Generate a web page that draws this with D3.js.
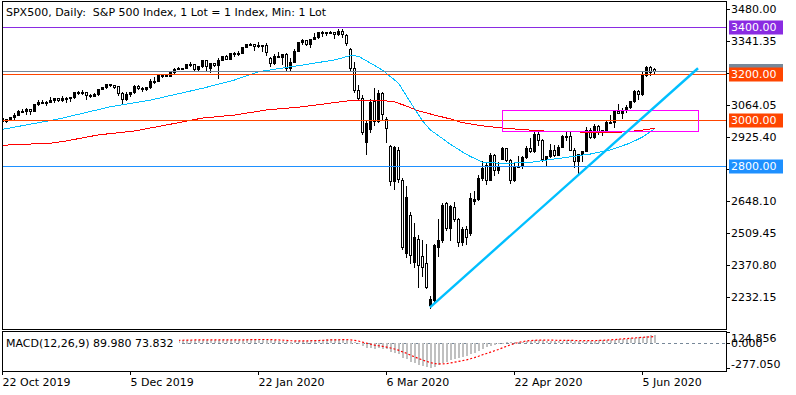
<!DOCTYPE html>
<html lang="en">
<head>
<meta charset="utf-8">
<title>SPX500 Daily</title>
<script src="https://d3js.org/d3.v7.min.js"></script>
<style>
  body { margin: 0; background: #fff; }
  text { font-family: "DejaVu Sans", sans-serif; font-size: 11px; fill: #000; }
  .frame { fill: none; stroke: #000; stroke-width: 1px; shape-rendering: crispEdges; }
</style>
</head>
<body>
<svg width="796" height="395"></svg>
<script>
// daily bars, 22 Oct 2019 .. 10 Jun 2020
var opens = [
  3006,2996,3004,3010,3022,3039,3037,3047,3038,3066,
  3078,3075,3077,3085,3093,3087,3092,3094,3097,3120,
  3122,3120,3108,3104,3110,3134,3141,3154,3151,3146,
  3114,3088,3113,3118,3146,3136,3133,3142,3169,3169,
  3192,3193,3191,3205,3221,3224,3223,3240,3240,3221,
  3231,3258,3222,3246,3237,3259,3275,3265,3288,3283,
  3289,3317,3330,3327,3321,3322,3326,3268,3244,3276,
  3273,3284,3226,3249,3298,3335,3346,3328,3352,3358,
  3379,3374,3380,3379,3370,3386,3367,3307,3226,3128,
  3095,2905,2960,3080,2995,3114,3002,2885,2735,2868,
  2738,2420,2586,2381,2482,2410,2380,2195,2218,2447,
  2478,2640,2529,2621,2568,2471,2527,2510,2648,2656,
  2746,2805,2740,2846,2783,2830,2875,2823,2737,2799,
  2798,2837,2878,2863,2940,2912,2831,2843,2868,2848,
  2881,2930,2930,2870,2820,2852,2864,2954,2923,2972,
  2949,2955,2990,2992,3036,3030,3044,3056,3081,3123,
  3112,3194,3230,3220];
var highs = [
  3014,3005,3013,3027,3044,3047,3050,3048,3067,3084,
  3084,3079,3098,3094,3094,3102,3098,3098,3121,3124,
  3128,3121,3112,3115,3134,3142,3155,3156,3152,3147,
  3118,3120,3121,3150,3150,3143,3143,3177,3183,3198,
  3198,3199,3206,3226,3228,3226,3240,3248,3241,3232,
  3258,3259,3247,3247,3268,3276,3282,3288,3294,3299,
  3317,3330,3333,3329,3337,3326,3334,3270,3285,3293,
  3286,3288,3268,3306,3337,3348,3347,3352,3375,3381,
  3385,3381,3385,3380,3394,3393,3370,3310,3250,3150,
  3105,2995,3090,3137,3130,3118,3010,2890,2885,2880,
  2745,2712,2600,2553,2500,2480,2460,2235,2460,2571,
  2638,2645,2632,2641,2575,2535,2540,2680,2690,2760,
  2819,2815,2855,2850,2815,2880,2876,2830,2816,2844,
  2842,2887,2922,2945,2950,2915,2844,2896,2891,2892,
  2933,2945,2945,2875,2852,2865,2968,2964,2981,2978,
  2957,2995,3021,3036,3069,3050,3063,3081,3130,3129,
  3211,3233,3233,3226];
var lows = [
  2993,2991,2999,3001,3020,3032,3025,3023,3036,3064,
  3071,3065,3075,3075,3079,3083,3078,3083,3095,3113,
  3112,3090,3098,3102,3109,3131,3139,3148,3137,3108,
  3068,3085,3102,3116,3133,3126,3130,3137,3158,3168,
  3186,3188,3190,3204,3219,3220,3222,3234,3214,3211,
  3228,3210,3206,3232,3181,3257,3261,3262,3277,3280,
  3288,3316,3325,3303,3317,3300,3281,3234,3240,3271,
  3243,3215,3214,3248,3296,3330,3322,3315,3350,3355,
  3361,3369,3377,3356,3369,3360,3324,3212,3118,3088,
  2940,2850,2945,2976,2990,2999,2901,2718,2700,2730,
  2440,2405,2377,2360,2276,2320,2270,2182,2210,2407,
  2470,2520,2480,2560,2450,2455,2460,2500,2635,2650,
  2740,2720,2738,2762,2768,2828,2820,2727,2735,2795,
  2790,2835,2860,2860,2892,2821,2798,2840,2844,2845,
  2880,2912,2869,2794,2766,2821,2862,2922,2920,2939,
  2934,2950,2985,2969,3028,3007,3032,3052,3078,3090,
  3108,3190,3194,3200];
var closes = [
  2996,3004,3010,3022,3039,3037,3047,3038,3066,3078,
  3075,3077,3085,3093,3087,3092,3094,3097,3120,3122,
  3120,3108,3104,3110,3134,3141,3154,3151,3141,3114,
  3088,3113,3118,3146,3136,3133,3142,3169,3169,3192,
  3193,3191,3205,3221,3224,3223,3240,3240,3221,3231,
  3258,3234,3246,3237,3259,3275,3265,3288,3283,3289,
  3317,3330,3327,3321,3322,3326,3295,3244,3276,3273,
  3284,3226,3249,3298,3335,3346,3328,3352,3358,3379,
  3374,3380,3379,3370,3386,3372,3333,3226,3128,3095,
  2945,2985,3075,2995,3114,3025,2965,2734,2880,2742,
  2446,2666,2413,2489,2370,2363,2276,2221,2456,2478,
  2630,2529,2626,2570,2471,2527,2489,2660,2656,2746,
  2790,2740,2846,2783,2800,2875,2823,2737,2799,2798,
  2837,2878,2863,2940,2912,2831,2843,2868,2848,2881,
  2930,2930,2870,2820,2852,2864,2954,2923,2972,2949,
  2955,2990,2992,3036,3030,3044,3056,3081,3123,3112,
  3194,3230,3207,3210];

// moving averages, read at sample bars
var ma50Bars = [0,14,27,37,50,58,64,75,83,87,89,92,95,99,102,105,107,110,112,115,117,120,125,132,136,140,147,152,157,160,163];
var ma50Vals = [2958,3003,3056,3085,3136,3172,3208,3237,3259,3278,3275,3245,3215,3158,3075,2995,2955,2918,2893,2860,2840,2816,2810,2815,2825,2834,2851,2869,2899,2925,2960];
var ma200Bars = [0,12,16,24,33,41,50,58,66,75,83,87,94,98,101,104,108,112,115,120,125,130,135,141,150,156,160,163];
var ma200Vals = [2889,2898,2908,2934,2951,2977,3007,3020,3042,3056,3074,3083,3085,3077,3059,3038,3020,3003,2987,2973,2964,2957,2951,2948,2944,2947,2955,2962];

// MACD(12,26,9): main (histogram) and signal
var macdMain = [
  12,14,16,18,21,23,25,27,30,33,
  35,37,38,39,39,39,39,39,40,41,
  41,40,38,37,38,39,40,40,38,34,
  29,27,25,26,25,24,24,26,27,29,
  31,32,34,36,38,39,40,39,39,38,
  39,38,37,35,35,36,36,37,38,38,
  40,43,44,44,44,43,40,33,30,27,
  25,19,17,19,23,27,29,31,34,37,
  40,42,43,43,44,43,40,28,10,-8,
  -34,-52,-54,-62,-58,-62,-72,-100,-108,-128,
  -170,-180,-215,-225,-245,-252,-264,-277,-265,-250,
  -228,-212,-192,-178,-172,-160,-150,-128,-108,-84,
  -62,-48,-30,-18,-8,5,10,8,10,12,
  16,22,27,33,35,30,27,26,24,24,
  27,32,33,28,22,21,20,27,28,32,
  32,33,36,38,43,46,50,54,58,64,
  68,78,86,89.98];
var macdSignal = [
  14,14,14,15,16,17,18,20,22,24,
  26,28,30,31,33,34,35,36,37,38,
  38,39,39,38,38,38,38,39,39,38,
  36,34,32,31,30,29,28,28,28,28,
  29,29,30,31,32,33,34,35,36,36,
  37,37,37,37,36,36,36,36,37,37,
  37,38,39,40,41,41,41,40,38,36,
  34,31,28,26,26,26,26,27,28,30,
  32,34,36,37,38,39,39,37,32,24,
  12,0,-11,-21,-29,-35,-43,-54,-65,-78,
  -97,-113,-134,-152,-171,-187,-203,-218,-227,-232,
  -232,-228,-221,-212,-204,-195,-186,-174,-161,-146,
  -129,-115,-100,-85,-70,-52,-35,-18,-4,8,
  17,24,29,32,34,35,35,34,33,32,
  31,31,31,30,29,28,28,28,29,30,
  32,34,37,40,44,48,51,55,58,62,
  65,68,71,73.832];

var tickBars = [0, 32, 64, 96, 128, 160];
var tickLabels = ["22 Oct 2019", "5 Dec 2019", "22 Jan 2020", "6 Mar 2020", "22 Apr 2020", "5 Jun 2020"];
var priceTicks = [3480.00, 3341.35, 3202.70, 3064.05, 2925.40, 2786.75, 2648.10, 2509.45, 2370.80, 2232.15];
var macdTicks = [124.856, 0, -277.05];

var levelPrices = [3400, 3200, 3000, 2800];
var levelColors = ["#8a2be2", "#ff4500", "#ff4500", "#1e90ff"];

// trend line and box objects (bar, price)
var trendBars = [107, 174];
var trendPrices = [2186, 3223];
var boxBars = [125.1, 174.1];
var boxPrices = [3041, 2951];

var svg = d3.select("svg");

var x = d3.scaleLinear().domain([0, 1]).range([2, 6]);
var y = d3.scaleLinear().domain([2232.15, 3480]).range([296.7, 9]);
var ym = d3.scaleLinear().domain([-277.05, 124.856]).range([368, 332]);

var defs = svg.append("defs");
defs.append("clipPath").attr("id", "mainClip")
  .append("rect").attr("x", 3).attr("y", 2).attr("width", 723).attr("height", 327);
defs.append("clipPath").attr("id", "macdClip")
  .append("rect").attr("x", 3).attr("y", 332).attr("width", 723).attr("height", 39);

var main = svg.append("g").attr("clip-path", "url(#mainClip)");
var bars = d3.range(closes.length);

// candles: filled = up, hollow = down
var candle = main.append("g").attr("shape-rendering", "crispEdges")
  .selectAll("g").data(bars).enter().append("g");

candle.append("line")
  .attr("x1", function(i) { return x(i) + 0.5; })
  .attr("x2", function(i) { return x(i) + 0.5; })
  .attr("y1", function(i) { return Math.round(y(highs[i])); })
  .attr("y2", function(i) { return Math.round(y(lows[i])) + 1; })
  .attr("stroke", "#000");

candle.append("rect")
  .attr("x", function(i) { return x(i) - 0.5; })
  .attr("width", 2)
  .attr("y", function(i) { return Math.round(y(Math.max(opens[i], closes[i]))) + 0.5; })
  .attr("height", function(i) {
    return Math.max(1, Math.round(y(Math.min(opens[i], closes[i]))) - Math.round(y(Math.max(opens[i], closes[i]))));
  })
  .attr("fill", function(i) { return closes[i] > opens[i] ? "#000" : "#fff"; })
  .attr("stroke", "#000");

// moving averages
var maLine = d3.line()
  .x(function(d) { return x(d[0]) + 0.5; })
  .y(function(d) { return y(d[1]); });

main.append("path")
  .datum(ma200Bars.map(function(b, k) { return [b, ma200Vals[k]]; }))
  .attr("d", maLine).attr("fill", "none").attr("stroke", "#ff0000").attr("stroke-width", 1)
  .attr("shape-rendering", "crispEdges");

main.append("path")
  .datum(ma50Bars.map(function(b, k) { return [b, ma50Vals[k]]; }))
  .attr("d", maLine).attr("fill", "none").attr("stroke", "#00bfff").attr("stroke-width", 1)
  .attr("shape-rendering", "crispEdges");

// horizontal levels + bid line
var bid = closes[closes.length - 1];
main.append("line")
  .attr("x1", 2).attr("x2", 727)
  .attr("y1", Math.round(y(bid)) + 0.5).attr("y2", Math.round(y(bid)) + 0.5)
  .attr("stroke", "#778899").attr("shape-rendering", "crispEdges");

main.selectAll(".level").data(levelPrices).enter().append("line")
  .attr("class", "level")
  .attr("x1", 2).attr("x2", 727)
  .attr("y1", function(d) { return Math.round(y(d)) + 0.5; })
  .attr("y2", function(d) { return Math.round(y(d)) + 0.5; })
  .attr("stroke", function(d, i) { return levelColors[i]; })
  .attr("shape-rendering", "crispEdges");

// box and trend line
main.append("rect")
  .attr("x", Math.round(x(boxBars[0])) + 0.5)
  .attr("y", Math.round(y(boxPrices[0])) + 0.5)
  .attr("width", Math.round(x(boxBars[1]) - x(boxBars[0])))
  .attr("height", Math.round(y(boxPrices[1]) - y(boxPrices[0])))
  .attr("fill", "none").attr("stroke", "#ff00ff").attr("shape-rendering", "crispEdges");

main.append("line")
  .attr("x1", x(trendBars[0])).attr("y1", y(trendPrices[0]))
  .attr("x2", x(trendBars[1])).attr("y2", y(trendPrices[1]))
  .attr("stroke", "#00bfff").attr("stroke-width", 2.4);

// MACD panel
var macdG = svg.append("g").attr("clip-path", "url(#macdClip)");

macdG.append("line")
  .attr("x1", 2).attr("x2", 727)
  .attr("y1", Math.round(ym(0)) + 0.5).attr("y2", Math.round(ym(0)) + 0.5)
  .attr("stroke", "#778899").attr("stroke-dasharray", "3,3").attr("shape-rendering", "crispEdges");

macdG.append("g").attr("shape-rendering", "crispEdges")
  .selectAll("rect").data(bars).enter().append("rect")
  .attr("x", function(i) { return x(i); })
  .attr("width", 2)
  .attr("y", function(i) { return Math.round(Math.min(ym(macdMain[i]), ym(0))); })
  .attr("height", function(i) { return Math.max(1, Math.round(Math.abs(ym(macdMain[i]) - ym(0)))); })
  .attr("fill", "#c0c0c0");

macdG.append("path")
  .datum(bars)
  .attr("d", d3.line()
    .x(function(i) { return x(i) + 0.5; })
    .y(function(i) { return ym(macdSignal[i]); }))
  .attr("fill", "none").attr("stroke", "#ff0000").attr("stroke-width", 1.2)
  .attr("stroke-dasharray", "2,2");

svg.append("rect").attr("x", 3).attr("y", 335).attr("width", 176).attr("height", 14).attr("fill", "#fff");
svg.append("text").attr("x", 6).attr("y", 346.5).text("MACD(12,26,9) 89.980 73.832");

// frames
svg.append("rect").attr("class", "frame").attr("x", 2.5).attr("y", 1.5).attr("width", 724).attr("height", 328);
svg.append("rect").attr("class", "frame").attr("x", 2.5).attr("y", 331.5).attr("width", 724).attr("height", 40);

// axes
function plainAxis(g) {
  g.attr("font-size", null).attr("font-family", null);
  g.select(".domain").remove();
  g.selectAll(".tick line").attr("shape-rendering", "crispEdges");
}

svg.append("g").attr("transform", "translate(726,0)")
  .call(d3.axisRight(y).tickValues(priceTicks).tickSize(4).tickPadding(1)
    .tickFormat(function(d) { return d.toFixed(2); }))
  .call(plainAxis);

svg.append("g").attr("transform", "translate(726,0)")
  .call(d3.axisRight(ym).tickValues(macdTicks).tickSize(4).tickPadding(1)
    .tickFormat(function(d) { return d.toFixed(3); }))
  .call(plainAxis)
  .selectAll(".tick text")
  .attr("dy", function(d) { return d > 100 ? "0.85em" : (d < -100 ? "-0.05em" : "0.32em"); });

svg.append("g").attr("transform", "translate(0,371)")
  .call(d3.axisBottom(x).tickValues(tickBars).tickSize(4).tickPadding(3)
    .tickFormat(function(d, i) { return tickLabels[i]; }))
  .call(plainAxis)
  .selectAll(".tick text").attr("text-anchor", "start").attr("x", 0);

// price labels on the right scale
var bidY = Math.round(y(bid));
svg.append("rect").attr("x", 729).attr("y", bidY - 7).attr("width", 54).attr("height", 14).attr("fill", "#778899");

var tag = svg.selectAll(".tag").data(levelPrices).enter().append("g").attr("class", "tag");
tag.append("rect")
  .attr("x", 729).attr("width", 54).attr("height", 14)
  .attr("y", function(d) { return Math.round(y(d)) - 6.5; })
  .attr("fill", function(d, i) { return levelColors[i]; });
tag.append("text")
  .attr("x", 731)
  .attr("y", function(d) { return Math.round(y(d)) + 0.5; })
  .attr("dy", "0.36em")
  .style("fill", "#fff")
  .text(function(d) { return d.toFixed(2); });

svg.append("text").attr("x", 6).attr("y", 16).style("white-space", "pre")
  .text("SPX500, Daily:  S&P 500 Index, 1 Lot = 1 Index, Min: 1 Lot");
</script>
</body>
</html>
